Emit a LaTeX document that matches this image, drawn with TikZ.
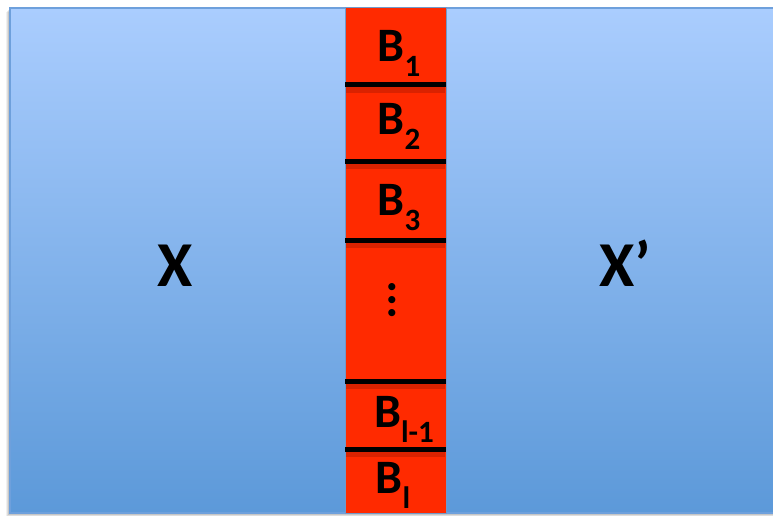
\documentclass[tikz,border=0pt]{standalone}
\usepackage{fontspec}
\setmainfont{Carlito}
\definecolor{bluetop}{RGB}{170,205,254}
\definecolor{bluebot}{RGB}{92,153,217}
\definecolor{blueedge}{RGB}{110,160,220}
\definecolor{redfill}{RGB}{255,42,0}
\definecolor{redshadow}{RGB}{150,20,0}
\tikzset{
  lbl/.style={font=\bfseries\fontsize{48}{48}\selectfont, inner sep=0pt, anchor=base, text=black},
  bigl/.style={font=\bfseries\fontsize{64}{64}\selectfont, inner sep=0pt, anchor=base, text=black},
  sepline/.style={line width=5pt, black},
  sepshadow/.style={line width=6pt, redshadow, opacity=0.35},
}
\newcommand{\Blab}[1]{B\raisebox{-15pt}{\fontsize{31}{31}\selectfont #1}}
\begin{document}
\begin{tikzpicture}[x=1pt,y=-1pt]
\useasboundingbox (0,0) rectangle (773,516);
\fill[white] (0,0) rectangle (773,516);
% shadow of blue panel
\foreach \o/\a in {4/0.06,3/0.08,2/0.10,1/0.12}{
  \fill[black, opacity=\a] (10-\o,8+\o) rectangle (775,513+\o);
}
% blue panel
\shade[top color=bluetop, bottom color=bluebot, draw=blueedge, line width=1.5pt] (10,8) rectangle (775,513);
% red column
\fill[redfill, draw=blueedge!80!gray, line width=1pt] (345,8) rectangle (446,513);
% separator shadows
\foreach \yy in {85,161,240,381,449}{
  \draw[sepshadow] (346,\yy+5) -- (445,\yy+5);
}
\coordinate (l1a) at (345,85);  \coordinate (l1b) at (446,85);
\coordinate (l2a) at (345,161); \coordinate (l2b) at (446,161);
\coordinate (l3a) at (345,240); \coordinate (l3b) at (446,240);
\coordinate (l4a) at (345,381); \coordinate (l4b) at (446,381);
\coordinate (l5a) at (345,449); \coordinate (l5b) at (446,449);
\draw[sepline] (l1a) -- (l1b);
\draw[sepline] (l2a) -- (l2b);
\draw[sepline] (l3a) -- (l3b);
\draw[sepline] (l4a) -- (l4b);
\draw[sepline] (l5a) -- (l5b);
% labels
\node[lbl] (b1) at (399,62) {\Blab{1}};
\node[lbl] (b2) at (399,135) {\Blab{2}};
\node[lbl] (b3) at (399,215) {\Blab{3}};
\node[lbl] (bl1) at (404,427) {\Blab{l-1}};
\node[lbl] (bl) at (393,493) {\Blab{l}};
\node[font=\bfseries\fontsize{48}{48}\selectfont, inner sep=0pt, rotate=90, anchor=center] (dots) at (392,300) {...};
\node[bigl] (x) at (175,286) {X};
\node[bigl] (xp) at (625,286) {X’};
\end{tikzpicture}
\end{document}
